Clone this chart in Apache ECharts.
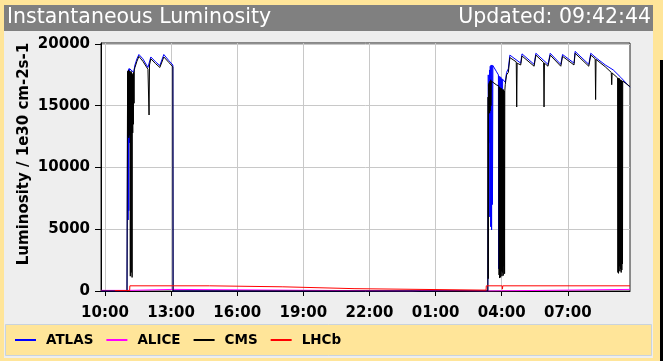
<!DOCTYPE html>
<html>
<head>
<meta charset="utf-8">
<title>Instantaneous Luminosity</title>
<script src="https://cdn.jsdelivr.net/npm/echarts@6/dist/echarts.min.js"></script>
<style>
  html, body { margin: 0; padding: 0; background: #FFE599; }
  #chart { width: 663px; height: 361px; }
</style>
</head>
<body>
<div id="chart"></div>
<script>
// Time is in hours counted from midnight of the first day (25 = 01:00 next day).
const timeWindow = [9.82, 33.82];
const xTickHours = [10, 13, 16, 19, 22, 25, 28, 31];
const yTicks = [0, 5000, 10000, 15000, 20000];
const experiments = ['ATLAS', 'ALICE', 'CMS', 'LHCb'];
const colors = ['#0000ff', '#ff00ff', '#000000', '#ff0000'];

// Luminosity in 1e30 cm-2 s-1, as [hour, value]
const atlasPoints = [
  [9.82, 0], [11.00, 0], [11.03, 17300], [11.05, 5750], [11.06, 17900], [11.08, 6500],
  [11.09, 18000], [11.11, 12000], [11.12, 18000], [11.20, 18050], [11.30, 17700],
  [11.36, 18300], [11.45, 18800], [11.54, 19150], [11.72, 18800], [11.95, 18100],
  [12.08, 18950], [12.30, 18550], [12.49, 18250], [12.67, 19150], [12.90, 18650],
  [13.08, 18300], [13.09, 0], [24.60, 0], [24.61, 40], [26.10, 40], [26.11, 0],
  [27.37, 0], [27.39, 17500], [27.42, 12000], [27.45, 17900], [27.46, 6000],
  [27.48, 18200], [27.50, 5200], [27.52, 18300], [27.54, 4940], [27.56, 18300],
  [27.58, 7000], [27.60, 18250], [27.75, 17800], [27.85, 17500], [27.86, 1800],
  [27.88, 17400], [27.90, 1460], [27.92, 17350], [27.94, 2200], [27.96, 17300],
  [27.98, 1600], [28.00, 17200], [28.02, 1900], [28.04, 17150], [28.10, 17000],
  [28.16, 16900], [28.22, 17700], [28.30, 18000], [28.37, 19100], [28.86, 18450],
  [28.92, 19200], [29.47, 18350], [29.55, 19250], [30.10, 18350], [30.20, 19250],
  [30.68, 18350], [30.76, 19150], [31.28, 18450], [31.33, 19400], [31.95, 18350],
  [32.04, 19250], [32.30, 18850], [32.70, 18300], [33.06, 17900], [33.40, 17300],
  [33.82, 16500]
];

const alicePoints = [
  [9.82, 50], [11.10, 50], [11.12, 130], [13.09, 130], [13.10, 0], [23.90, 0],
  [23.91, 40], [24.30, 40], [24.31, 0], [27.37, 0], [27.39, 130], [33.82, 130]
];

const cmsPoints = [
  [9.82, 0], [11.00, 0], [11.02, 14000], [11.03, 17800], [11.04, 12500], [11.05, 17600],
  [11.06, 13000], [11.07, 17900], [11.08, 12400], [11.09, 17700], [11.10, 14000],
  [11.11, 17800], [11.13, 12600], [11.14, 17700], [11.15, 1200], [11.16, 17600],
  [11.17, 12500], [11.18, 17800], [11.19, 1500], [11.20, 17700], [11.21, 13000],
  [11.22, 17600], [11.23, 1100], [11.24, 17500], [11.26, 12800], [11.27, 17600],
  [11.29, 13500], [11.30, 17700], [11.32, 15200], [11.33, 17900], [11.36, 18100],
  [11.45, 18600], [11.54, 19000], [11.72, 18600], [11.95, 17950], [11.99, 18100],
  [12.00, 14250], [12.02, 18300], [12.08, 18800], [12.30, 18400], [12.49, 18100],
  [12.67, 18950], [12.90, 18500], [13.08, 18150], [13.09, 0],
  [27.37, 0], [27.38, 15700], [27.39, 1000], [27.40, 16700], [27.41, 14400],
  [27.42, 16800], [27.43, 14500], [27.44, 16900], [27.45, 14400], [27.47, 17000],
  [27.48, 14600], [27.50, 17100], [27.51, 15000], [27.53, 17000], [27.62, 16900],
  [27.75, 16700], [27.87, 16600], [27.88, 1300], [27.89, 16500], [27.90, 1050],
  [27.91, 16500], [27.92, 1400], [27.93, 16400], [27.95, 1100], [27.96, 16400],
  [27.98, 1600], [27.99, 16400], [28.01, 1200], [28.02, 16300], [28.04, 1500],
  [28.05, 16300], [28.07, 1250], [28.08, 16300], [28.10, 2000], [28.11, 16200],
  [28.13, 1400], [28.14, 16200], [28.16, 16700], [28.22, 17500], [28.30, 17700],
  [28.37, 18900], [28.66, 18550], [28.68, 14900], [28.70, 18450], [28.86, 18300],
  [28.92, 19030], [29.47, 18200], [29.55, 19100], [29.90, 18500], [29.92, 14900],
  [29.94, 18450], [30.10, 18200], [30.20, 19100], [30.68, 18200], [30.76, 19000],
  [31.28, 18300], [31.33, 19250], [31.95, 18200], [32.04, 19100], [32.24, 18800],
  [32.26, 15500], [32.28, 18750], [32.70, 18150], [32.97, 17700], [32.99, 16700],
  [33.01, 17650], [33.26, 17250], [33.27, 1500], [33.28, 17250], [33.30, 1430],
  [33.31, 17200], [33.33, 2000], [33.34, 17200], [33.36, 1600], [33.37, 17100],
  [33.39, 1800], [33.40, 17100], [33.42, 1500], [33.43, 17050], [33.45, 1700],
  [33.46, 17000], [33.48, 2200], [33.49, 17000], [33.82, 16550]
];

const lhcbPoints = [
  [10.45, 30], [11.12, 30], [11.13, 420], [14.74, 420], [14.75, 340], [18.07, 340],
  [18.08, 190], [21.30, 190], [21.31, 70], [27.29, 70], [27.30, 420], [28.02, 420],
  [28.03, 150], [28.05, 420], [33.82, 420]
];

const seriesPoints = [atlasPoints, alicePoints, cmsPoints, lhcbPoints];

const FONT = '"DejaVu Sans", sans-serif';
const pad2 = n => (n < 10 ? '0' : '') + n;

const chart = echarts.init(document.getElementById('chart'), null, { renderer: 'canvas' });

chart.setOption({
  animation: false,
  backgroundColor: '#FFE599',
  textStyle: { fontFamily: FONT },
  graphic: [
    { type: 'rect', z: -10, shape: { x: 4, y: 5, width: 649, height: 353 }, style: { fill: '#EEEEEE' } },
    { type: 'rect', z: -9, shape: { x: 4, y: 5, width: 649, height: 26 }, style: { fill: '#808080' } },
    { type: 'rect', z: -9, shape: { x: 5.5, y: 324.5, width: 646, height: 31 }, style: { fill: '#FFE599', stroke: '#C9D3DD', lineWidth: 1 } },
    { type: 'rect', z: -9, shape: { x: 660, y: 60, width: 3, height: 301 }, style: { fill: '#000000' } },
    {
      type: 'text', x: 24, y: 154, rotation: Math.PI / 2,
      style: {
        text: 'Luminosity / 1e30 cm-2s-1', fill: '#000',
        font: 'bold 15px "DejaVu Sans", sans-serif',
        align: 'center', verticalAlign: 'middle'
      }
    }
  ],
  title: [
    {
      text: 'Instantaneous Luminosity', left: 7, top: 5,
      textStyle: { color: '#ffffff', fontSize: 20.5, fontWeight: 'normal', fontFamily: FONT, lineHeight: 26 },
      padding: 0
    },
    {
      text: 'Updated: 09:42:44', right: 12, top: 5,
      textStyle: { color: '#ffffff', fontSize: 20.5, fontWeight: 'normal', fontFamily: FONT, lineHeight: 26 },
      padding: 0
    }
  ],
  legend: {
    data: experiments,
    left: 15, top: 333, padding: 0,
    icon: 'rect', itemWidth: 21, itemHeight: 2, itemGap: 13,
    textStyle: { fontFamily: FONT, fontWeight: 'bold', fontSize: 13.5, color: '#000', padding: [0, 0, 0, 5] },
    selectedMode: false
  },
  grid: {
    left: 101, right: 33, top: 43, bottom: 70,
    show: true, backgroundColor: '#ffffff', borderColor: '#222222', borderWidth: 1
  },
  xAxis: {
    type: 'value', min: timeWindow[0], max: timeWindow[1],
    axisLine: { show: true, lineStyle: { color: '#000', width: 1 } },
    axisTick: { show: true, length: 5, customValues: xTickHours, lineStyle: { color: '#000' } },
    axisLabel: {
      customValues: xTickHours, margin: 15, color: '#000',
      fontFamily: FONT, fontWeight: 'bold', fontSize: 15,
      formatter: v => pad2(Math.round(v) % 24) + ':00'
    },
    splitLine: { show: true, lineStyle: { color: '#c8c8c8', width: 1 } }
  },
  yAxis: {
    type: 'value', min: 0, max: 20080,
    axisLine: { show: true, lineStyle: { color: '#000', width: 1 } },
    axisTick: { show: true, length: 6, customValues: yTicks, lineStyle: { color: '#000' } },
    axisLabel: {
      customValues: yTicks, margin: 11, color: '#000',
      fontFamily: FONT, fontWeight: 'bold', fontSize: 15,
      formatter: v => String(Math.round(v))
    },
    splitLine: { show: true, lineStyle: { color: '#c8c8c8', width: 1 } }
  },
  series: experiments.map((name, i) => ({
    name, type: 'line', data: seriesPoints[i],
    showSymbol: false, symbol: 'none',
    color: colors[i],
    lineStyle: { color: colors[i], width: 1 },
    z: 2 + i
  }))
});
</script>
</body>
</html>
